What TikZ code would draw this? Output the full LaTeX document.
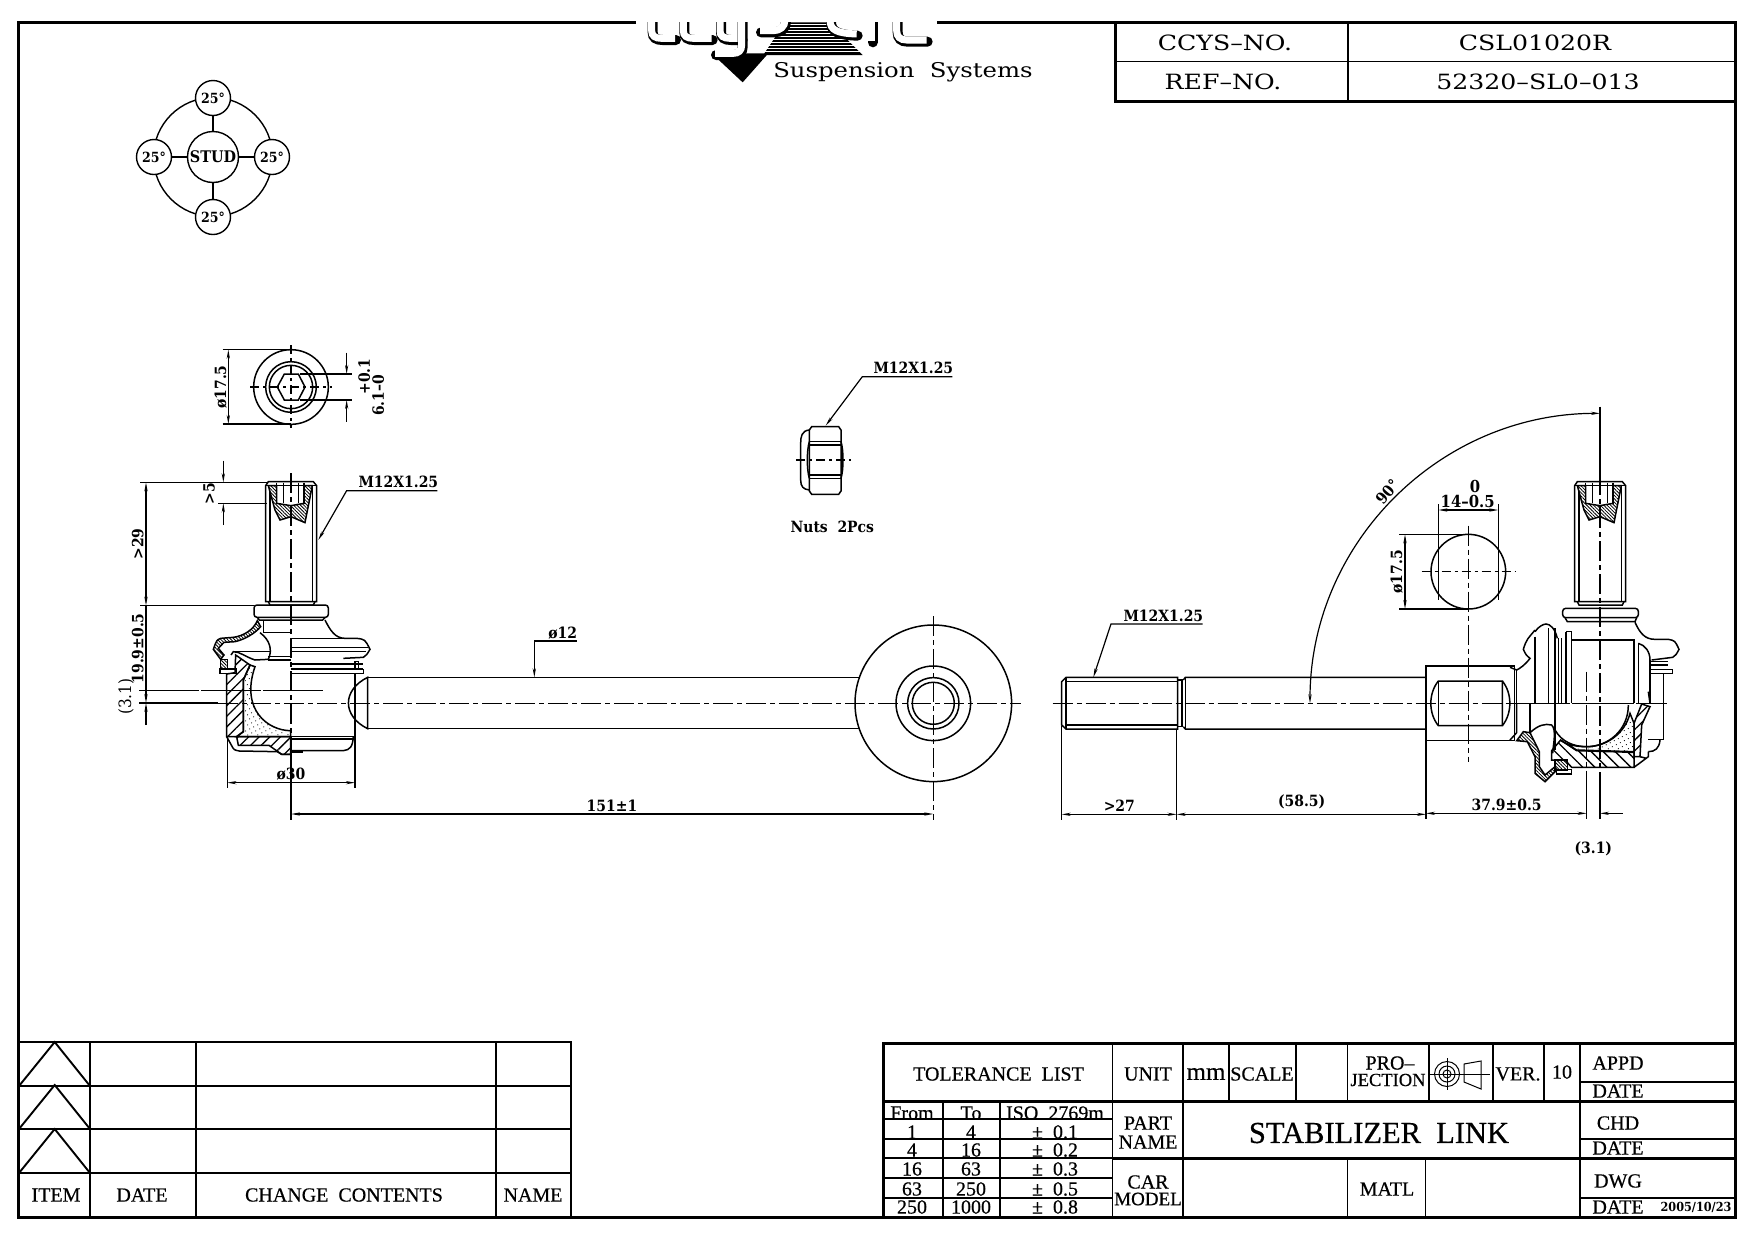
\documentclass[tikz,border=0pt]{standalone}
\usepackage{fontspec}
\usepackage{tikz}
\usetikzlibrary{arrows.meta,patterns.meta}
\setmainfont{Liberation Serif}
\newfontfamily\dimfam[FakeStretch=0.9]{DejaVu Serif}
\newfontfamily\plainfam[FakeBold=0.5]{Liberation Serif}
\newfontfamily\topfam[FakeStretch=1.2]{DejaVu Serif}
\tikzset{
	part/.style={line width=1.5pt},
	frameline/.style={line width=3pt},
	cellline/.style={line width=1.9pt},
	centerline/.style={line width=1.2pt,dash pattern=on 20pt off 4pt on 5pt off 4pt},
	shortcenter/.style={line width=1.2pt,dash pattern=on 9pt off 4pt on 3pt off 4pt},
	dimline/.style={line width=1.2pt},
	dimtext/.style={font=\dimfam\bfseries\fontsize{15.5}{15.5}\selectfont,inner sep=0pt},
	celltext/.style={font=\plainfam\fontsize{20}{20}\selectfont,inner sep=0pt},
	toptext/.style={font=\topfam\fontsize{21}{21}\selectfont,inner sep=0pt},
	anglering/.style={circle,draw,line width=1.4pt,fill=white,inner sep=0pt,minimum size=35pt,font=\dimfam\bfseries\fontsize{14}{14}\selectfont},
	finehatch/.style={pattern={Lines[angle=-45,distance=2.4pt,line width=.8pt]}},
	widehatch/.style={pattern={Lines[angle=45,distance=7.5pt,line width=1.3pt]}},
	widehatchb/.style={pattern={Lines[angle=-45,distance=8.5pt,line width=1.3pt]}},
	grease/.style={pattern={Dots[distance=4.5pt,radius=.6pt,angle=27]}},
	>={Stealth[length=9pt,width=3.2pt]},
	% stud with socket, origin at middle of top face
	studpin/.pic={
		\draw[part] (-76,12)--(-68,0)--(67,0)--(77,12)--(77,360)--(-76,360)--cycle;
		\draw[part] (-76,12)--(77,12);
		\foreach \x in {-63,64}{
			\draw[part] (\x,12)--(\x,360);
		}
		\draw[part] (-68,360)--(-63,370)--(67,370)--(72,360);
		\fill[white] (-68,13)--(64,13)--(42,123)--(0,105)--(-33,115)--cycle;
		\draw[part,finehatch] (-68,12)--(-43,12)--(-43,65)--(0,72)--(0,105)--(-33,115)--(-48,85)--cycle;
		\draw[part,finehatch] (39,12)--(64,12)--(42,123)--(0,105)--(0,72)--(39,65)--cycle;
		\foreach \x in {-43,-23,22,39}{
			\draw[part] (\x,3)--(\x,65);
		}
	}
}
\begin{document}
\begin{tikzpicture}[x=1pt,y=-1pt]
	\useasboundingbox (0,0) rectangle (1754,1240);
	\fill[white] (0,0) rectangle (1754,1240);

	% frame
	\draw[frameline] (636,22)--(18,22)--(18,1217)--(1735,1217)--(1735,22)--(937,22);

	% logo
	\begin{scope}[shift={(630,10)},x=1pt/3,y=-1pt/3]
		\clip (0,37) rectangle (960,230);
		\fill (245,130)--(338,217)--(415,130)--cycle;
		\fill (465,37)--(600,37)--(698,135)--(400,135)--cycle;
		\foreach \y in {44,53,...,130}{
			\draw[white,line width=.8pt] (400,\y)--(700,\y);
		}
		\foreach \p in {
			{(65,30)--(65,62)..controls (65,78) and (75,85)..(95,85)--(135,85)},
			{(160,30)--(160,62)..controls (160,78) and (170,85)..(190,85)--(245,85)},
			{(270,30)--(270,62)..controls (270,78) and (280,85)..(300,85)--(335,85)},
			{(335,30)--(335,105)..controls (335,122) and (325,130)..(310,130)--(255,130)},
			{(390,62)--(430,62)..controls (450,62) and (465,50)..(465,30)},
			{(600,30)..controls (600,60) and (620,70)..(680,72)},
			{(725,30)--(725,92)},
			{(800,30)--(800,62)..controls (800,80) and (810,90)..(830,90)--(890,90)}}{
			\draw[line width=10pt,line cap=round] [shift={(3,5)}] \p;
			\draw[white,line width=7pt] \p;
		}
	\end{scope}
	\node[toptext,font=\topfam\fontsize{20.3}{20.3}\selectfont] (logotext) at (903,72) {Suspension\ \ Systems};

	% number table, top right
	\draw[frameline] (1115,22)--(1115,101)--(1735,101);
	\draw[cellline] (1115,61.5)--(1735,61.5) (1348,22)--(1348,101);
	\node[toptext] (ccysno) at (1225,43) {CCYS–NO.};
	\node[toptext] (ccysval) at (1535,43) {CSL01020R};
	\node[toptext] (refno) at (1223,81.5) {REF–NO.};
	\node[toptext] (refval) at (1538,81.5) {52320–SL0–013};

	% angle rings
	\draw[line width=1.4pt] (213,157) circle (59.5);
	\node[anglering,minimum size=51pt,font=\dimfam\bfseries\fontsize{16}{16}\selectfont] (stud) at (213,157) {STUD};
	\foreach \n/\x/\y in {ringT/213/98, ringL/154/157, ringR/272/157, ringB/213/217}{
		\node[anglering] (\n) at (\x,\y) {25°};
		\draw[line width=1.4pt] (stud)--(\n);
	}

	% end view of stud
	\begin{scope}[shift={(100,340)},x=1pt/3,y=-1pt/3]
		\draw[part] (573,141) circle (112);
		\draw[part] (573,141) circle (76);
		\draw[part] (573,141) circle (65);
		\draw[part] (532,141)--(553,102)--(595,102)--(615,141)--(595,180)--(553,180)--cycle;
		\draw[shortcenter] (450,141)--(697,141);
		\draw[shortcenter] (573,15)--(573,265);
		\draw[dimline] (368,29)--(573,29) (368,252)--(573,252);
		\draw[dimline,<->] (385,29)--(385,252);
		\draw[dimline] (600,102)--(757,102) (600,180)--(757,180);
		\draw[dimline,->] (740,38)--(740,102);
		\draw[dimline,->] (740,245)--(740,180);
		\node[dimtext,rotate=90] (diaA) at (362,141) {ø17.5};
		\node[dimtext,rotate=90] (tolA) at (793,110) {+0.1};
		\node[dimtext,rotate=90] (tolB) at (835,166) {6.1–0};
	\end{scope}

	% left view
	\begin{scope}[shift={(100,340)},x=1pt/3,y=-1pt/3]
		\pic at (573,425) {studpin};
		\node[dimtext] (threadA) at (895,427) {M12X1.25};
		\draw[dimline,->] (1012,452)--(740,452)--(655,600);
		\draw[dimline] (120,427)--(500,427);
		\draw[dimline] (355,490)--(500,490);
		\draw[dimline,->] (370,362)--(370,427);
		\draw[dimline,->] (370,555)--(370,490);
		\draw[dimline,<->] (138,427)--(138,797);
		\draw[dimline] (120,797)--(462,797);
		\draw[dimline,->] (138,797)--(138,1089);
		\draw[dimline,->] (138,1155)--(138,1089);
		\draw[dimline] (118,1089)--(355,1089);
		\draw[line width=1.2pt,dash pattern=on 60pt off 2pt] (118,1051)--(668,1051);
		\draw[dimline] (382,1190)--(382,1345) (765,1190)--(765,1345);
		\draw[dimline,<->] (382,1328)--(765,1328);
		\draw[dimline] (573,1240)--(573,1440);
		\node[dimtext,rotate=90] (lenA) at (327,460) {>5};
		\node[dimtext,rotate=90] (lenB) at (113,612) {>29};
		\node[dimtext,rotate=90] (lenC) at (113,925) {19.9±0.5};
		\node[dimtext,rotate=90,font=\dimfam\fontsize{17}{17}\selectfont] (lenD) at (78,1070) {(3.1)};
		\node[dimtext] (diaB) at (573,1303) {ø30};
		\node[dimtext] (diaC) at (1388,878) {ø12};
		\draw[dimline,->] (1430,903)--(1303,903)--(1303,1012);
		\draw[centerline] (573,400)--(573,1240);
	\end{scope}

	% left ball joint
	\begin{scope}[shift={(200,600)},x=1pt/3,y=-1pt/3]
		\draw[part,rounded corners=3pt] (162,15) rectangle (385,52);
		\draw[part] (172,52)--(178,60)--(368,60)--(376,52);
		\draw[part] (190,60)--(190,98)--(272,98);
		% boot
		\draw[part,finehatch] (172,62)..controls (160,90) and (130,108)..(100,112)--(62,115)..controls (50,120)..(40,148)--(62,178)--(72,165)--(55,145)--(72,127)--(105,125)..controls (135,118) and (165,100)..(182,80)--cycle;
		\draw[part] (180,98)..controls (210,120) and (218,150)..(205,178)--(165,180)..controls (135,170) and (120,155)..(100,155)--(93,165);
		\draw[part] (100,155)--(210,155);
		\draw[part] (205,170)--(272,170) (205,180)--(272,180);
		\draw[part,finehatch] (62,178) rectangle (82,205);
		\draw[part] (60,207) rectangle (110,220);
		% body, grease and cup
		\draw[part,widehatch] (80,222)--(105,218)--(107,165)--(150,195)--(130,240)--(130,395)--(110,410)--(80,410)--cycle;
		\draw[part,grease] (150,195)--(130,240)--(130,395)--(110,410)--(272,410)--(272,392)..controls (205,392) and (120,330)..(165,200)--cycle;
		\draw[part] (80,410)--(95,437)..controls (102,450)..(118,453)--(232,455)--(245,463)--(272,463);
		\draw[part,widehatch] (110,410)--(272,410)--(272,463)--(245,463)--(207,436)--(115,436)--cycle;
		% right half
		\draw[part] (375,60)..controls (390,90) and (405,115)..(435,115)--(470,115)..controls (495,118)..(510,148)..controls (500,165)..(490,172)--(430,175);
		\draw[part] (272,115)--(470,115) (272,143)--(505,143) (272,155)--(498,155);
		\draw[part] (272,192)--(490,192) (272,207)--(490,207);
		\draw[part] (272,220)--(490,220)--(490,207);
		\draw[part] (465,185) rectangle (476,205);
		\draw[part] (465,220)--(465,410);
		\draw[part] (272,410)--(465,410) (272,417)--(460,417);
		\draw[part] (460,410)..controls (458,440) and (450,450)..(430,452)--(272,452);
		\fill (272,452) rectangle (310,458);
	\end{scope}

	% bar with eye
	\draw[part] (367.7,677.3)--(859.5,677.3) (367.7,728.7)--(859.5,728.7);
	\draw[part] (367.7,677.3)..controls (342,690) and (342,716)..(367.7,728.7)--cycle;
	\foreach \r in {78.3,37.3,25.7,21}{
		\draw[part] (933.3,703.3) circle (\r);
	}
	\draw[centerline] (218,703.3)--(1020.7,703.3);
	\draw[centerline] (933.3,616)--(933.3,820);
	\draw[dimline,<->] (291,814)--(933.3,814);
	\node[dimtext] (lenE) at (612,806) {151±1};

	% threaded bar
	\begin{scope}[shift={(830,600)},x=1pt/3,y=-1pt/3]
		\draw[part] (695,245)--(708,232)--(1043,232)--(1043,387)--(708,387)--(695,375)--cycle;
		\draw[part] (708,232)--(708,387) (708,245)--(1043,245) (708,375)--(1043,375);
		\draw[part] (1043,240)--(1060,240) (1043,380)--(1060,380);
		\draw[part] (1056,240)--(1056,380);
		\draw[part] (1060,240)--(1066,232)--(1788,232) (1060,380)--(1066,387)--(1788,387);
		\draw[part] (1066,232)--(1066,387);
		\draw[centerline] (668,310)--(2510,310);
		\draw[dimline] (695,378)--(695,660) (1040,390)--(1040,660);
		\draw[dimline,<->] (695,643)--(1040,643);
		\draw[dimline,<->] (1040,643)--(1788,643);
		\node[dimtext] (lenF) at (868,617) {>27};
		\node[dimtext] (lenG) at (1415,605) {(58.5)};
		\node[dimtext] (threadB) at (1000,47) {M12X1.25};
		\draw[dimline,->] (1118,72)--(843,72)--(790,232);
	\end{scope}

	% nut
	\begin{scope}[shift={(780,340)},x=1pt/3,y=-1pt/3]
		\draw[part] (88,270)--(95,260)--(176,260)--(183,270)--(183,453)--(176,463)--(95,463)--(88,453)--cycle;
		\draw[part] (88,270)..controls (65,272) and (62,290)..(62,310)--(62,420)..controls (62,440) and (70,448)..(88,450);
		\draw[part] (88,305)--(183,305) (88,315)--(183,315) (88,405)--(183,405) (88,415)--(183,415);
		\draw[part] (88,305)..controls (80,330) and (80,390)..(88,415);
		\draw[part] (183,305)..controls (191,330) and (191,390)..(183,415);
		\draw[shortcenter] (48,360)--(212,360);
		\node[dimtext] (threadC) at (400,85) {M12X1.25};
		\draw[dimline,->] (517,110)--(247,110)--(137,257);
		\node[dimtext] (nutlabel) at (157,560) {Nuts\ \ 2Pcs};
	\end{scope}

	% right view
	\begin{scope}[shift={(1300,400)},x=1pt/3,y=-1pt/3]
		\pic at (900,245) {studpin};
		\draw[part] (378,798)--(643,798)--(643,1022)--(378,1022)--cycle;
		\draw[part] (415,843)--(607,843)--(607,977)--(415,977)..controls (385,940) and (385,880)..(415,843)--cycle;
		\draw[part] (607,843)..controls (637,880) and (637,940)..(607,977);
		\draw[part] (415,843)--(415,977);
		% circle section of the bracket
		\draw[part] (505,515) circle (112);
		\draw[dimline] (415,313)--(415,600) (595,313)--(595,600);
		\draw[dimline] (298,403)--(505,403) (298,627)--(505,627);
		\draw[dimline,<->] (315,403)--(315,627);
		\draw[dimline,<->] (415,330)--(595,330);
		\draw[shortcenter] (365,515)--(645,515);
		\draw[centerline] (505,377)--(505,1085);
		\node[dimtext,font=\dimfam\bfseries\fontsize{16.5}{16.5}\selectfont] (gapA) at (503,305) {14–0.5};
		\node[dimtext,font=\dimfam\bfseries\fontsize{16.5}{16.5}\selectfont] (gapB) at (525,258) {0};
		\node[dimtext,rotate=90] (diaD) at (290,515) {ø17.5};
		% angle
		\draw[dimline,<->] (30,910) arc[start angle=180,end angle=270,radius=870];
		\node[dimtext,rotate=50] (angleA) at (262,275) {90°};
		\draw[dimline] (900,20)--(900,225);
		\draw[centerline] (900,225)--(900,1130);
		\draw[dimline] (900,1130)--(900,1257);
		\draw[dimline] (378,1022)--(378,1257) (860,1130)--(860,1257);
		\draw[centerline] (860,815)--(860,1130);
		\draw[dimline,<->] (378,1240)--(860,1240);
		\draw[dimline,->] (968,1240)--(900,1240);
		\node[dimtext] (lenH) at (620,1215) {37.9±0.5};
		\node[dimtext] (lenI) at (880,1345) {(3.1)};
	\end{scope}

	% right ball joint
	\begin{scope}[shift={(1510,610)},x=1pt/3,y=-1pt/3]
		\draw[part,rounded corners=3pt] (158,-5) rectangle (385,23);
		\draw[part] (165,23)--(172,35)--(375,35)--(380,23);
		\draw[part] (375,37)..controls (390,70) and (405,88)..(435,88)--(475,88)..controls (495,92)..(507,118)..controls (498,135)..(488,142)--(425,150);
		\draw[part] (185,90)--(375,90);
		\foreach \x/\a in {145/85, 155/85, 168/65, 185/65, 372/90, 385/100, 115/55, 135/55, 75/80}{
			\draw[part] (\x,\a)--(\x,280);
		}
		\draw[part] (168,65)--(185,65);
		% boot, left
		\draw[part] (75,65)..controls (85,50) and (100,42)..(108,42)..controls (120,42) and (135,55)..(142,85);
		\draw[part] (75,60)..controls (55,85) and (50,85)..(40,118)..controls (48,135)..(60,145)..controls (45,165) and (30,175)..(20,180)--(0,172);
		\draw[part] (20,180)--(20,280);
		\draw[part] (420,150)--(420,280) (420,178) rectangle (487,190);
		\draw[part] (420,155)--(475,155) (420,165)--(475,165);
		\draw[part] (460,190)--(460,388)--(415,388);
		\draw[part] (450,390)..controls (448,415) and (435,425)..(415,425);
		\draw[part] (385,100)..controls (405,105) and (420,125)..(420,150);
		\draw[line width=1.2pt,dash pattern=on 60pt off 3pt] (0,280)--(470,280);
		% neck and lower boot
		\draw[part] (20,280)--(20,368)--(0,390);
		\draw[part] (60,280)--(60,368);
		\draw[part] (135,280)--(135,420);
		\draw[part] (60,368)..controls (85,345) and (105,340)..(125,345)..controls (140,360) and (130,400)..(128,430);
		\draw[part,finehatch] (20,392)--(40,365)--(60,368)--(88,425)--(88,470)--(105,495)--(135,470)--(140,480)--(105,515)--(75,490)--(75,440)--(52,395)--cycle;
		\draw[part,finehatch] (135,450) rectangle (172,480);
		\draw[part] (140,478) rectangle (185,492);
		% grease, cup and wall
		\draw[part,grease] (360,310)..controls (345,370) and (290,410)..(230,410)..controls (200,410) and (170,405)..(150,390)--(200,420)--(372,425)--(372,340)--cycle;
		\draw[part] (355,285)..controls (355,360) and (295,410)..(230,410)..controls (190,410) and (155,395)..(135,360);
		\draw[part,widehatchb] (125,422)--(152,390)--(200,422)--(372,427)--(372,472)--(185,472)--(165,450)--(125,450)--cycle;
		\draw[part,widehatch] (395,282)--(420,290)--(395,345)--(390,440)--(372,440)--(372,340)--cycle;
		\draw[part] (415,245)--(420,280);
		\draw[part] (390,440)--(410,445) (372,472)--(415,440)--(415,425);
	\end{scope}

	% change table, bottom left
	\draw[cellline] (19,1042)--(571,1042)--(571,1217);
	\foreach \y in {1086,1129,1173}{
		\draw[cellline] (19,\y)--(571,\y);
		\draw[cellline] (19,\y)--(54.7,\y-44)--(90,\y);
	}
	\foreach \x in {90,196,496}{
		\draw[cellline] (\x,1042)--(\x,1217);
	}
	\foreach \n/\x/\t in {chItem/56/ITEM, chDate/142/DATE, chContents/344/CHANGE\ \ CONTENTS, chName/533/NAME}{
		\node[celltext] (\n) at (\x,1195) {\t};
	}

	% title block
	\draw[frameline] (883,1217)--(883,1043)--(1735,1043);
	\draw[frameline] (883,1101)--(1735,1101);
	\draw[frameline] (1112.5,1158.3)--(1735,1158.3);
	\foreach \x in {1112.5,1183,1580}{
		\draw[cellline] (\x,1043)--(\x,1217);
	}
	\foreach \x in {1229,1296,1429,1493,1544}{
		\draw[cellline] (\x,1043)--(\x,1101);
	}
	\draw[cellline] (1347.5,1043)--(1347.5,1101);
	\foreach \x in {1347.5,1425.5}{
		\draw[cellline] (\x,1158.3)--(\x,1217);
	}
	\foreach \y in {1081.7,1139,1197.7}{
		\draw[cellline] (1580,\y)--(1735,\y);
	}
	\foreach \x in {942.6,999.7}{
		\draw[cellline] (\x,1101)--(\x,1217);
	}
	\foreach \y in {1119.3,1139,1158.3,1178.3,1197.7}{
		\draw[cellline] (883,\y)--(1112.5,\y);
	}
	\foreach \n/\x/\y/\t in {tolTitle/998.5/1074/TOLERANCE\ \ LIST, unitA/1148/1074/UNIT,
		scaleA/1262/1074/SCALE, projA/1390/1063/PRO–, verA/1518/1074/VER., verB/1562/1072/10,
		appA/1618/1063/APPD, appB/1618/1091/DATE, chdA/1618/1123/CHD, chdB/1618/1148/DATE,
		dwgA/1618/1181/DWG, dwgB/1618/1207/DATE, nameA/1148/1123/PART, nameB/1148/1142/NAME,
		carA/1148/1182/CAR, matA/1387/1189/MATL}{
		\node[celltext] (\n) at (\x,\y) {\t};
	}
	\node[celltext,font=\plainfam\fontsize{18.5}{18.5}\selectfont] (projB) at (1388,1080) {JECTION};
	\node[celltext,font=\plainfam\fontsize{19}{19}\selectfont] (carB) at (1148,1199) {MODEL};
	\node[celltext,font=\plainfam\fontsize{25}{25}\selectfont] (unitB) at (1206,1074) {mm};
	\node[font=\plainfam\fontsize{30.5}{30.5}\selectfont,inner sep=0pt] (partname) at (1379,1133) {STABILIZER\ \ LINK};
	\node[font=\dimfam\bfseries\fontsize{12.5}{12.5}\selectfont,inner sep=0pt] (dwgdate) at (1696,1207) {2005/10/23};
	% projection symbol
	\foreach \r in {12.5,8,4}{
		\draw[line width=1pt] (1447,1074) circle (\r);
	}
	\draw[line width=1pt] (1464,1064)--(1481,1061)--(1481,1089)--(1464,1082)--cycle;
	\draw[line width=.9pt] (1430,1074)--(1490,1074) (1447,1058)--(1447,1090);
	\foreach \n/\y/\a/\b/\c in {rowH/1113/From/To/ISO\ \ 2769m, rowA/1132/1/4/±\ \ 0.1, rowB/1150/4/16/±\ \ 0.2,
		rowC/1169/16/63/±\ \ 0.3, rowD/1189/63/250/±\ \ 0.5, rowE/1207/250/1000/±\ \ 0.8}{
		\node[celltext] (\n a) at (912,\y) {\a};
		\node[celltext] (\n b) at (971,\y) {\b};
		\node[celltext] (\n c) at (1055,\y) {\c};
	}
\end{tikzpicture}
\end{document}
